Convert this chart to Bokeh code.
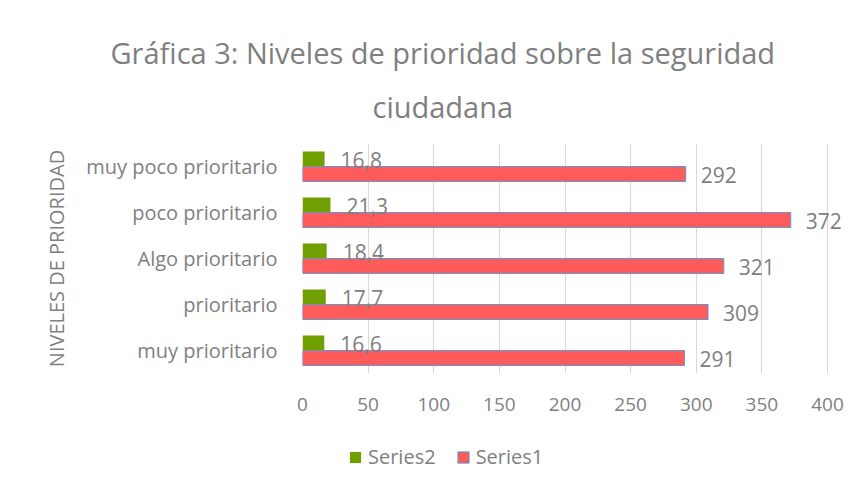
from bokeh.plotting import figure
from bokeh.layouts import column
from bokeh.models import (ColumnDataSource, FactorRange, Range1d, Legend,
                          LegendItem, FixedTicker, Title)
from bokeh.transform import dodge
from bokeh.core.properties import value
from bokeh.embed import file_html
from bokeh.resources import INLINE

# ---- data ----
categories = ["muy poco prioritario", "poco prioritario", "Algo prioritario",
              "prioritario", "muy prioritario"]
series1 = [292, 372, 321, 309, 291]
series2 = [16.8, 21.3, 18.4, 17.7, 16.6]
series_names = ["Series2", "Series1"]
x_ticks = [0, 50, 100, 150, 200, 250, 300, 350, 400]
title_lines = ["Gráfica 3: Niveles de prioridad sobre la seguridad", "ciudadana"]
y_axis_title = "NIVELES DE PRIORIDAD"

FONT = "Open Sans"
GRAY = "#7f7f7f"
GREEN = "#70A000"
RED = "#FF5B5B"
BLUE = "#5B9BD5"
GRID = "#d9d9d9"

src = ColumnDataSource(dict(
    cat=categories,
    s1=series1,
    s2=series2,
    s1_lbl=[str(v) for v in series1],
    s2_lbl=[f"{v:.1f}".replace(".", ",") for v in series2],
))

p = figure(width=853, height=430,
           y_range=FactorRange(factors=categories[::-1]),
           x_range=Range1d(0, 416),
           output_backend="svg", toolbar_location=None,
           min_border_left=302, min_border_right=5,
           min_border_top=143, min_border_bottom=57)

bw = 0.326
g = p.hbar(y=dodge("cat", bw / 2, range=p.y_range), left=0, right="s2", height=bw,
           source=src, fill_color=GREEN, line_color=None)
r = p.hbar(y=dodge("cat", -bw / 2, range=p.y_range), left=0, right="s1", height=bw,
           source=src, fill_color=RED, line_color=BLUE, line_width=1)

p.text(x="s2", y=dodge("cat", bw / 2, range=p.y_range), text="s2_lbl", source=src,
       x_offset=16, y_offset=1, text_baseline="middle", text_align="left",
       text_font=value(FONT), text_font_size="21px", text_color=GRAY)
p.text(x="s1", y=dodge("cat", -bw / 2, range=p.y_range), text="s1_lbl", source=src,
       x_offset=15, y_offset=1, text_baseline="middle", text_align="left",
       text_font=value(FONT), text_font_size="21px", text_color=GRAY)

# axes
p.xaxis.ticker = FixedTicker(ticks=x_ticks)
p.xaxis.axis_line_color = None
p.xaxis.major_tick_line_color = None
p.xaxis.minor_tick_line_color = None
p.xaxis.major_label_text_font = FONT
p.xaxis.major_label_text_font_size = "19px"
p.xaxis.major_label_text_color = GRAY
p.xaxis.major_label_standoff = 18

p.yaxis.axis_line_color = None
p.yaxis.major_tick_line_color = None
p.yaxis.minor_tick_line_color = None
p.yaxis.major_label_text_font = FONT
p.yaxis.major_label_text_font_size = "20px"
p.yaxis.major_label_text_color = GRAY
p.yaxis.major_label_standoff = 19
p.yaxis.axis_label = y_axis_title
p.yaxis.axis_label_text_font = FONT
p.yaxis.axis_label_text_font_size = "20px"
p.yaxis.axis_label_text_font_style = "normal"
p.yaxis.axis_label_text_color = GRAY
p.yaxis.axis_label_standoff = 13

p.xgrid.grid_line_color = GRID
p.xgrid.ticker = FixedTicker(ticks=x_ticks)
p.ygrid.grid_line_color = None
p.outline_line_color = None

# title: line 2 next to the plot, line 1 as the figure title above it
p.add_layout(Title(text=title_lines[1], align="left", offset=70,
                   vertical_align="top",
                   text_font=FONT, text_font_size="29px",
                   text_font_style="normal", text_color=GRAY,
                   standoff=31), "above")
p.title.text = title_lines[0]
p.title.align = "left"
p.title.offset = -192
p.title.text_font = FONT
p.title.text_font_size = "29px"
p.title.text_font_style = "normal"
p.title.text_color = GRAY
p.title.standoff = 0

# legend strip below the chart; hidden proxy renderers carry the bar styles
leg = figure(width=853, height=56, x_range=Range1d(0, 1), y_range=Range1d(0, 1),
             output_backend="svg", toolbar_location=None,
             x_axis_location=None, y_axis_location=None, min_border=0)
leg.grid.grid_line_color = None
leg.outline_line_color = None
pg = leg.hbar(y="s2", left=0, right="s2", height=bw, source=src,
              fill_color=GREEN, line_color=None, visible=False)
pr = leg.hbar(y="s1", left=0, right="s1", height=bw, source=src,
              fill_color=RED, line_color=BLUE, line_width=1, visible=False)
legend = Legend(items=[LegendItem(label=series_names[0], renderers=[pg]),
                       LegendItem(label=series_names[1], renderers=[pr])],
                orientation="horizontal", location=(46, 16),
                padding=0, margin=0, spacing=20,
                glyph_width=14, glyph_height=14, label_standoff=6, label_height=14,
                label_text_font=FONT, label_text_font_size="20px", label_text_color=GRAY,
                background_fill_alpha=0, border_line_alpha=0)
leg.add_layout(legend)

open("out.html", "w").write(file_html(column(p, leg, spacing=0), INLINE))
